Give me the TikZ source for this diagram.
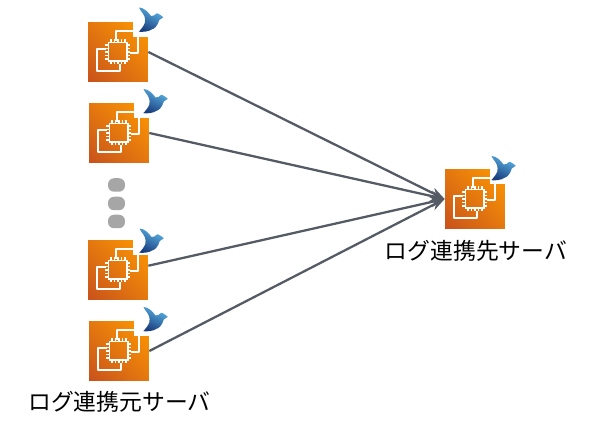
\documentclass[tikz,border=0pt]{standalone}
\usepackage{fontspec}
\setmainfont{Noto Sans CJK JP}
\usetikzlibrary{arrows.meta,shadings}

\definecolor{linkgray}{HTML}{545B64}
\definecolor{dotgray}{HTML}{A6A6A6}
\definecolor{ec2dark}{HTML}{C8511B}
\definecolor{ec2mid}{HTML}{E4780F}
\definecolor{ec2light}{HTML}{FF9900}
\definecolor{birdlight}{HTML}{5AB4E6}
\definecolor{birddark}{HTML}{1B3F7E}

\tikzset{
  iconbox/.style={minimum size=1.2cm,inner sep=0pt},
  dotbox/.style={fill=dotgray,minimum width=0.34cm,minimum height=0.27cm,inner sep=0pt,rounded corners=0.12cm},
  caption/.style={inner sep=0pt,font=\fontsize{13}{15}\selectfont},
  link/.style={draw=linkgray,line width=1.3pt,-{Stealth[length=8pt,width=6pt]}},
  ec2icon/.pic={
    % ---- orange square with a notch, origin at its centre ----
    \shade[lower left=ec2dark,upper right=ec2light,upper left=ec2mid,lower right=ec2mid]
      (-0.6,-0.6) rectangle (0.6,0.6);
    \fill[white] (0.3,0.61) rectangle (0.61,0.31);
    % ---- rear and front boards ----
    \draw[white,line width=0.8pt,line join=round] (-0.04,0.22) -- (-0.04,0.42) -- (0.3,0.42) (0.4,0.3) -- (0.4,-0.02) -- (0.24,-0.02);
    \draw[white,line width=0.8pt,line join=round] (-0.24,0.06) -- (-0.42,0.06) -- (-0.42,-0.38) -- (0.04,-0.38) -- (0.04,-0.24);
    % ---- chip with its pins ----
    \draw[white,line width=1pt] (-0.19,-0.18) rectangle (0.18,0.19);
    \foreach \t in {-0.14,-0.07,0,0.07,0.14}{
      \draw[white,line width=0.6pt] (\t,0.19) -- (\t,0.26) (\t,-0.18) -- (\t,-0.25)
        (0.18,\t) -- (0.25,\t) (-0.19,\t) -- (-0.26,\t);
    }
  },
  birdmark/.pic={
    % ---- origin at the middle of the bird ----
    \shade[left color=birdlight,right color=birddark,shading angle=-25]
      (-0.24,0.24) .. controls (-0.14,0.24) and (-0.05,0.14) .. (0,0.07)
      .. controls (0.03,0.07) and (0.05,0.08) .. (0.066,0.083)
      .. controls (0.09,0.12) and (0.12,0.125) .. (0.133,0.123)
      .. controls (0.17,0.12) and (0.18,0.09) .. (0.2,0.083)
      -- (0.246,0.043) -- (0.166,-0.01)
      .. controls (0.14,-0.12) and (0.05,-0.2) .. (0.033,-0.19)
      .. controls (-0.06,-0.25) and (-0.16,-0.25) .. (-0.247,-0.244)
      .. controls (-0.19,-0.19) and (-0.14,-0.12) .. (-0.125,-0.07)
      .. controls (-0.11,-0.02) and (-0.12,0.02) .. (-0.13,0.06)
      .. controls (-0.15,0.12) and (-0.22,0.18) .. (-0.24,0.24) -- cycle;
  }
}

\begin{document}
\begin{tikzpicture}[x=0.02cm,y=-0.02cm]
\useasboundingbox (0,0) rectangle (593,429);
% ---- servers ----
\foreach \n/\x/\y/\bx/\by in {srcA/118/52/151/19.5, srcB/119/133/155.5/101, srcC/118/270/151.5/240.5,
                              srcD/119/351/155.5/319, dst/475/199/503.5/168}{
  \node[iconbox] (\n) at (\x,\y) {};
  \coordinate (\n bird) at (\bx,\by);
  \pic[x=1cm,y=1cm] at (\n) {ec2icon};
  \pic[x=1cm,y=1cm] at (\n bird) {birdmark};
}
% ---- dots between the sources ----
\foreach \n/\y in {dotA/185, dotB/203.5, dotC/221.5}{
  \node[dotbox] (\n) at (116.5,\y) {};
}
% ---- captions ----
\node[caption] (srccap) at (119.5,402) {ログ連携元サーバ};
\node[caption] (dstcap) at (476,251) {ログ連携先サーバ};
% ---- links ----
\foreach \n/\a in {srcA/0,srcB/0,srcC/8,srcD/0}{
  \draw[link] (\n.\a) -- (dst.west);
}
\end{tikzpicture}
\end{document}
